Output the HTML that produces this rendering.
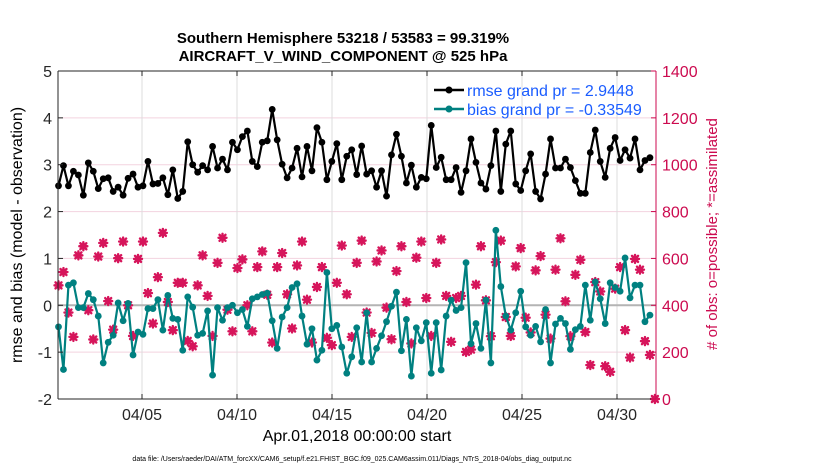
<!DOCTYPE html>
<html><head><meta charset="utf-8"><style>
html,body{margin:0;padding:0;background:#fff;}
svg{display:block;font-family:"Liberation Sans",sans-serif;}
</style></head><body>
<svg id="chart" width="830" height="470" viewBox="0 0 830 470">
<g id="grid"></g>
<g id="marks"></g>
<g id="axes"></g>
<text x="343" y="43" text-anchor="middle" font-size="15" font-weight="bold">Southern Hemisphere 53218 / 53583 = 99.319%</text>
<text x="343" y="61" text-anchor="middle" font-size="15" font-weight="bold">AIRCRAFT_V_WIND_COMPONENT @ 525 hPa</text>
<text transform="translate(22,235) rotate(-90)" text-anchor="middle" font-size="16">rmse and bias (model - observation)</text>
<text transform="translate(717,234) rotate(-90)" text-anchor="middle" font-size="15" fill="#cc0a4f"># of obs: o=possible; *=assimilated</text>
<text x="357" y="441" text-anchor="middle" font-size="16">Apr.01,2018 00:00:00 start</text>
<text x="352" y="461" text-anchor="middle" font-size="7">data file: /Users/raeder/DAI/ATM_forcXX/CAM6_setup/f.e21.FHIST_BGC.f09_025.CAM6assim.011/Diags_NTrS_2018-04/obs_diag_output.nc</text>
<g id="legend">
  <g>
    <line x1="434" y1="90" x2="464" y2="90" stroke="#000" stroke-width="2.5"/>
    <circle cx="449" cy="90" r="3.5" fill="#000"/>
    <text x="467" y="96" font-size="16" fill="#1a5cff">rmse grand pr = 2.9448</text>
  </g>
  <g>
    <line x1="434" y1="109" x2="464" y2="109" stroke="#008080" stroke-width="2.5"/>
    <circle cx="449" cy="109" r="3.5" fill="#008080"/>
    <text x="467" y="115" font-size="16" fill="#1a5cff">bias grand pr = -0.33549</text>
  </g>
</g>
</svg>
<script>
const rmse = [2.55,2.98,2.55,2.86,2.78,2.35,3.04,2.86,2.49,2.70,2.72,2.43,2.52,2.35,2.71,2.80,2.52,2.55,3.07,2.59,2.60,2.72,2.36,2.89,2.28,2.43,3.49,3.0,2.84,2.98,
2.89,3.39,2.93,3.12,2.89,3.48,3.32,3.6,3.72,3.07,2.96,3.48,3.51,4.18,3.53,3.01,2.72,2.93,3.35,2.74,3.39,2.87,3.79,3.48,2.68,3.07,3.45,2.68,3.18,
3.32,2.79,3.40,2.80,2.87,2.52,2.87,2.33,3.21,3.65,3.18,2.61,2.99,2.52,2.73,2.70,3.84,2.94,3.16,2.68,2.68,2.94,2.41,2.87,3.55,3.05,2.61,2.48,2.98,
3.72,2.43,3.44,3.72,2.59,2.45,2.87,3.23,2.43,2.27,2.80,3.55,2.93,2.93,3.12,2.94,2.66,2.39,2.39,3.26,3.74,3.07,2.73,3.35,3.58,3.09,3.32,3.14,3.55,2.89,3.09,3.15];
const bias = [-0.46,-1.37,0.43,0.48,-0.05,-0.05,0.25,0.12,-0.23,-1.23,-0.79,-0.64,0.05,-0.33,0.04,-1.06,-0.57,-0.62,-0.07,-0.07,0.12,-0.53,0.21,-0.28,-0.30,-0.96,0.18,-0.04,-0.64,-0.60,
-0.12,-1.49,-0.05,-0.32,-0.05,0,-0.16,-0.09,-0.45,0.14,0.18,0.23,0.26,-0.33,-0.92,-0.25,-0.05,0.38,0.46,-0.23,-0.83,-0.50,-1.17,-0.96,0.70,-0.50,-0.43,-0.89,-1.45,
-1.10,-0.48,-1.21,-0.16,-1.21,-0.92,-0.65,-0.35,-0.02,0.28,-0.97,-0.30,-1.51,-0.48,-0.76,-0.37,-1.45,-0.37,-1.38,-0.23,0.11,-0.11,-0.05,0.91,-0.82,-0.39,-0.92,0.11,-1.23,
1.60,0.40,-0.23,-0.53,-0.16,0.30,-0.46,-0.64,-0.45,-0.78,-0.09,-1.23,-0.40,-0.28,-0.39,-0.94,-0.52,-0.45,0.43,-0.32,0.50,0.14,-0.39,0.48,0.38,0.30,1.01,0.16,0.43,0.43,-0.35,-0.21];
const nobs = [485,542,369,265,613,652,379,254,608,666,418,296,601,672,400,269,598,672,452,322,520,709,414,294,496,496,248,225,485,613,
440,269,581,688,381,289,559,596,400,289,563,630,445,241,563,623,447,301,570,672,424,241,478,563,261,230,496,655,447,
265,581,676,369,282,587,634,390,255,546,652,414,237,603,672,431,269,581,681,440,244,431,440,201,211,488,652,421,268,
584,676,350,269,566,644,347,284,549,610,360,258,552,686,417,268,530,594,286,145,499,459,140,116,471,563,294,177,598,552,247,188,0];
const leftTicks = [5,4,3,2,1,0,-1,-2];
const rightTicks = [1400,1200,1000,800,600,400,200,0];
const dateTicks = [4,9,14,19,24,29];
const dateLabels = ["04/05","04/10","04/15","04/20","04/25","04/30"];

const L=58,R=656,T=71,B=399;
const yL = v => T + (5 - v) * (B - T) / 7;
const yR = v => B - v * (B - T) / 1400;
const xI = i => 58.5 + i * 4.97;
const xD = d => 66 + 19 * d;
const NS='http://www.w3.org/2000/svg';
function mk(tag, attrs, parent){const e=document.createElementNS(NS,tag);for(const k in attrs)e.setAttribute(k,attrs[k]);parent.appendChild(e);return e;}
const grid=document.getElementById('grid'), marks=document.getElementById('marks'), axes=document.getElementById('axes');

mk('rect',{x:L,y:T,width:R-L,height:B-T,fill:'#fff'},grid);
leftTicks.forEach(v=>{
  const g=mk('line',{x1:L,x2:R,y1:yL(v),y2:yL(v),stroke:'#f3d3df','stroke-width':1},grid);
  
  
});
dateTicks.forEach(d=>{
  const g=mk('line',{x1:xD(d),x2:xD(d),y1:T,y2:B,stroke:'#dcdcdc','stroke-width':1},grid);
  
  
});
const z=mk('line',{x1:L,x2:R,y1:yL(0),y2:yL(0),stroke:'#b4b4b4','stroke-width':2},grid);



nobs.forEach((n,i)=>{
  const x=Math.min(xI(i),R), y=yR(n);
  const g=mk('path',{d:`M${x-4},${y}H${x+4}M${x},${y-4}V${y+4}M${x-3},${y-3}L${x+3},${y+3}M${x-3},${y+3}L${x+3},${y-3}`,stroke:'#d6155b','stroke-width':2.4,'stroke-linecap':'round'},marks);
  
  
});
function series(vals,color,name){
  const p=mk('polyline',{points:vals.map((v,i)=>xI(i)+','+yL(v)).join(' '),fill:'none',stroke:color,'stroke-width':2.2,'stroke-linejoin':'round'},marks);
  
  
  vals.forEach((v,i)=>{
    const c=mk('circle',{cx:xI(i),cy:yL(v),r:3.4,fill:color},marks);
    
    
  });
}
series(bias,'#008080','bias');
series(rmse,'#000000','rmse');

mk('line',{x1:L,x2:R,y1:T,y2:T,stroke:'#262626','stroke-width':1},axes);
mk('line',{x1:L,x2:R,y1:B,y2:B,stroke:'#262626','stroke-width':1},axes);
mk('line',{x1:L,x2:L,y1:T,y2:B,stroke:'#262626','stroke-width':1},axes);
mk('line',{x1:R,x2:R,y1:T,y2:B,stroke:'#cc0a4f','stroke-width':1},axes);
leftTicks.forEach(v=>{
  mk('line',{x1:L,x2:L+5,y1:yL(v),y2:yL(v),stroke:'#262626'},axes);
  const t=mk('text',{x:L-6,y:yL(v)+6,'text-anchor':'end','font-size':16,fill:'#262626'},axes);
  t.textContent=v;
  
  
});
rightTicks.forEach(v=>{
  mk('line',{x1:R-5,x2:R,y1:yR(v),y2:yR(v),stroke:'#cc0a4f'},axes);
  const t=mk('text',{x:R+6,y:yR(v)+6,'font-size':16,fill:'#cc0a4f'},axes);
  t.textContent=v;
  
  
});
dateTicks.forEach((d,k)=>{
  mk('line',{x1:xD(d),x2:xD(d),y1:B-5,y2:B,stroke:'#262626'},axes);
  mk('line',{x1:xD(d),x2:xD(d),y1:T,y2:T+5,stroke:'#262626'},axes);
  const t=mk('text',{x:xD(d),y:B+21,'text-anchor':'middle','font-size':16,fill:'#262626'},axes);
  t.textContent=dateLabels[k];
  
  
});
</script>
</body></html>
